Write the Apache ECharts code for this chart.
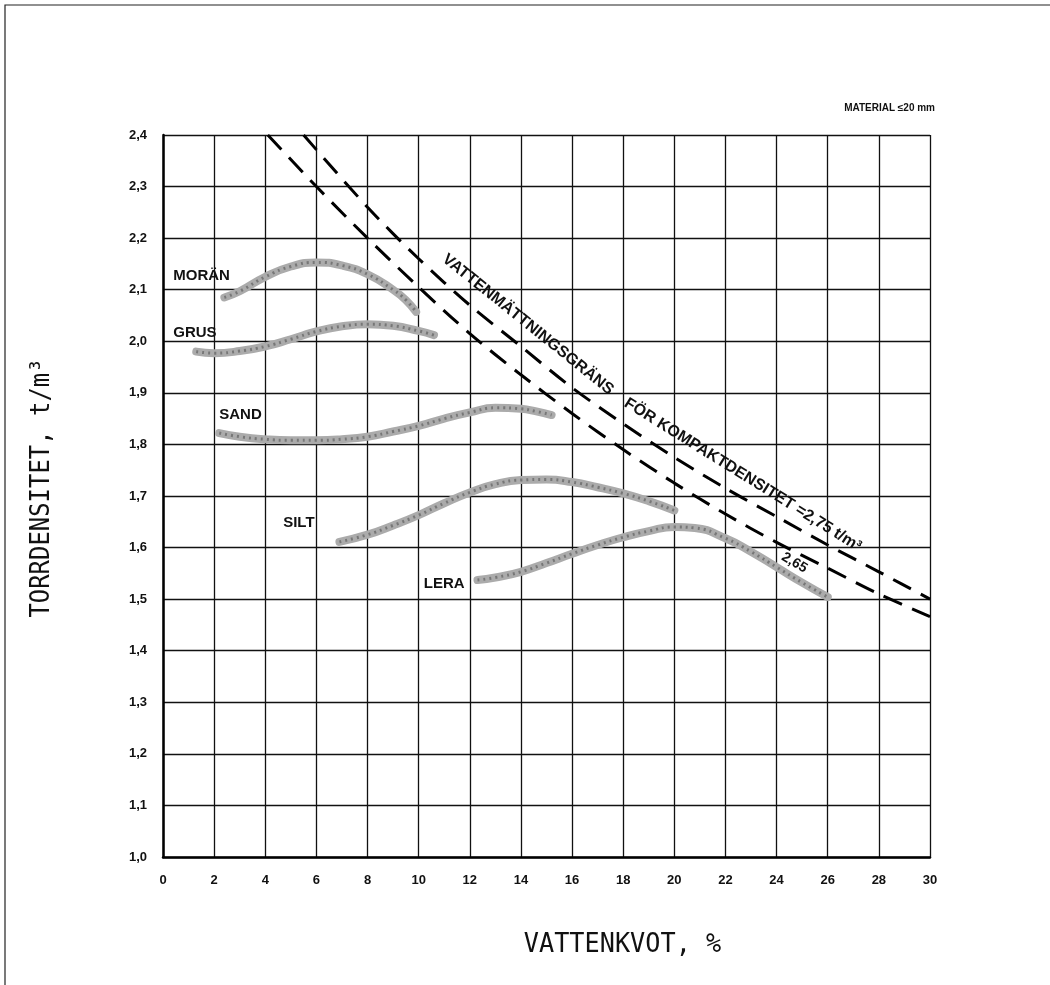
<!DOCTYPE html>
<html>
<head>
<meta charset="utf-8">
<script src="https://cdn.jsdelivr.net/npm/echarts@6/dist/echarts.min.js"></script>
<style>
html,body{margin:0;padding:0;background:#fff;}
#chart{width:1050px;height:985px;}
</style>
</head>
<body>
<div id="chart"></div>
<script>
// ---- data ----
const xTicks = [0,2,4,6,8,10,12,14,16,18,20,22,24,26,28,30];
const yTicks = ['1,0','1,1','1,2','1,3','1,4','1,5','1,6','1,7','1,8','1,9','2,0','2,1','2,2','2,3','2,4'];

const moran = [[2.4,2.085],[3,2.097],[4,2.125],[5,2.145],[6,2.153],[7,2.147],[8,2.13],[9,2.10],[9.5,2.08],[9.9,2.057]];
const grus  = [[1.3,1.98],[2,1.977],[3,1.981],[4,1.99],[5,2.004],[6,2.019],[7,2.029],[8,2.033],[9,2.03],[10,2.02],[10.6,2.012]];
const sand  = [[2.2,1.822],[3,1.815],[4,1.81],[5,1.808],[6,1.808],[7,1.81],[8,1.815],[9,1.825],[10,1.836],[11,1.85],[12,1.862],[13,1.871],[14,1.869],[14.6,1.864],[15.2,1.857]];
const silt  = [[6.9,1.611],[8,1.625],[9,1.643],[10,1.663],[11,1.686],[12,1.707],[13,1.723],[14,1.731],[15,1.732],[16,1.727],[17,1.717],[18,1.705],[19,1.69],[20,1.672]];
const lera  = [[12.3,1.537],[13,1.542],[14,1.553],[15,1.57],[16,1.588],[17,1.605],[18,1.62],[19,1.632],[20,1.64],[20.8,1.638],[22,1.618],[23,1.592],[24,1.562],[25,1.532],[26,1.504]];
const sat275 = [[5.5,2.40],[8,2.26],[10,2.16],[12,2.07],[14,1.99],[16,1.91],[18,1.84],[20,1.775],[22,1.715],[24,1.66],[26,1.605],[28,1.553],[30,1.50]];
const sat265 = [[4.1,2.40],[6,2.30],[8,2.20],[10,2.105],[12,2.015],[14,1.935],[16,1.86],[18,1.79],[20,1.725],[22,1.665],[24,1.61],[26,1.56],[28,1.51],[30,1.466]];

const curveNames = ['MORÄN','GRUS','SAND','SILT','LERA'];
const curveData = [moran, grus, sand, silt, lera];

const chart = echarts.init(document.getElementById('chart'), null, {renderer:'canvas'});

const tickFont = {fontFamily:'Liberation Sans, Arial, sans-serif', fontWeight:'bold', fontSize:13, color:'#111'};

const series = [];
curveData.forEach((d, i) => {
  series.push({
    type:'line', name:curveNames[i], data:d, smooth:0.5, symbol:'none', silent:true,
    lineStyle:{color:'#ababab', width:8, cap:'round'}, z:3
  });
  series.push({
    type:'line', name:curveNames[i]+'_tex', data:d, smooth:0.5, symbol:'none', silent:true,
    lineStyle:{color:'#555', width:3, type:[2,4], opacity:0.6}, z:4
  });
});
[sat275, sat265].forEach((d, i) => {
  series.push({
    type:'line', name:'sat'+i, data:d, smooth:0.3, symbol:'none', silent:true,
    lineStyle:{color:'#000', width:3, type:[20,11]}, z:5
  });
});

chart.setOption({
  animation:false,
  backgroundColor:'#fff',
  grid:{left:163, right:120, top:135, bottom:128, containLabel:false},
  xAxis:{
    type:'value', min:0, max:30, interval:2,
    axisLine:{show:true, onZero:false, lineStyle:{color:'#000', width:2.5}},
    axisTick:{show:false},
    axisLabel:Object.assign({margin:17, formatter:v=>String(v)}, tickFont),
    splitLine:{show:true, lineStyle:{color:'#111', width:1.3}}
  },
  yAxis:{
    type:'value', min:1.0, max:2.4, interval:0.1,
    axisLine:{show:true, onZero:false, lineStyle:{color:'#000', width:2.5}},
    axisTick:{show:false},
    axisLabel:Object.assign({margin:16, formatter:v=>{
      const i = Math.round((v-1.0)*10); return yTicks[i] !== undefined ? yTicks[i] : '';
    }}, tickFont),
    splitLine:{show:true, lineStyle:{color:'#111', width:1.3}}
  },
  series:series
});

// ---- annotations positioned through the chart's scales ----
const P = (x,y) => chart.convertToPixel({gridIndex:0}, [x,y]);
const labelFont = 'bold 15px "Liberation Sans", Arial, sans-serif';
function lbl(text, x, y, align){
  const p = P(x,y);
  return {type:'text', x:p[0], y:p[1], z:10, silent:true,
    style:{text:text, font:labelFont, fill:'#111', align:align||'left', verticalAlign:'middle'}};
}
function along(text, s, e, font){
  const a = P(s[0], s[1]), b = P(e[0], e[1]);
  const ang = Math.atan2(b[1]-a[1], b[0]-a[0]);
  return {type:'text', x:(a[0]+b[0])/2, y:(a[1]+b[1])/2, rotation:-ang, silent:true, z:10,
    style:{text:text, font:font, fill:'#111', align:'center', verticalAlign:'middle'}};
}
const tr = P(30, 2.4);
const origin = P(0, 1.0);
const ctr = P(15, 1.7);
const annFont = 'bold 16px "Liberation Sans", Arial, sans-serif';

chart.setOption({graphic:[
  // page frame
  {type:'polyline', silent:true, shape:{points:[[5,985],[5,5],[1050,5]]}, style:{stroke:'#222', lineWidth:1.2, fill:null}},
  lbl('MORÄN', 0.4, 2.127),
  lbl('GRUS', 0.4, 2.017),
  lbl('SAND', 2.2, 1.857),
  lbl('SILT', 4.7, 1.647),
  lbl('LERA', 10.2, 1.53),
  {type:'text', x:tr[0]+5, y:tr[1]-27, silent:true, z:10,
    style:{text:'MATERIAL ≤20 mm', font:'bold 10px "Liberation Sans", Arial, sans-serif', fill:'#111', align:'right', verticalAlign:'middle'}},
  along('VATTENMÄTTNINGSGRÄNS', [10.95, 2.165], [17.6, 1.90], annFont),
  along('FÖR KOMPAKTDENSITET =2,75 t/m³', [17.85, 1.89], [27.5, 1.592], annFont),
  along('2,65', [24.1, 1.588], [25.3, 1.553], 'bold 14px "Liberation Sans", Arial, sans-serif'),
  // axis titles
  {type:'text', x:origin[0]-121, y:ctr[1]-8, rotation:Math.PI/2, scaleX:0.92, silent:true,
    style:{text:'TORRDENSITET, t/m³', font:'26px "DejaVu Sans Mono", monospace', fill:'#111', align:'center', verticalAlign:'middle'}},
  {type:'text', x:ctr[0]+76, y:origin[1]+88, scaleX:0.97, silent:true,
    style:{text:'VATTENKVOT, %', font:'26px "DejaVu Sans Mono", monospace', fill:'#111', align:'center', verticalAlign:'middle'}}
]});
</script>
</body>
</html>
